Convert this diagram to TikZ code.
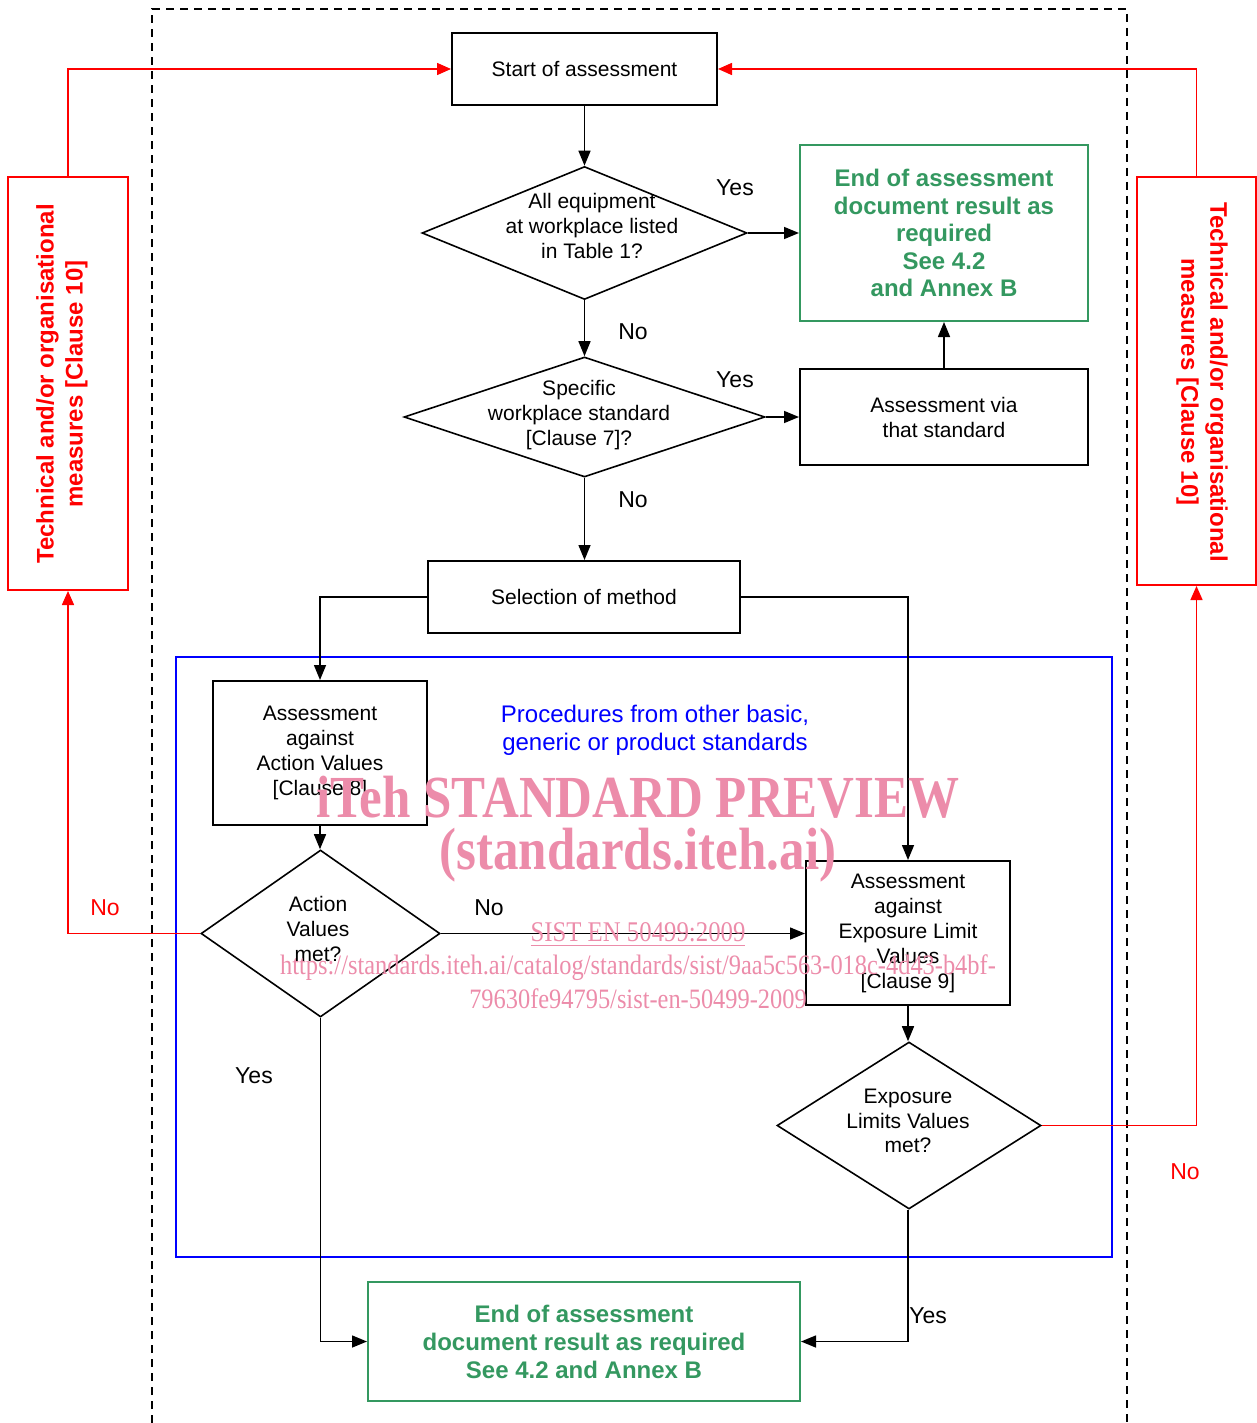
\documentclass[tikz,border=0pt]{standalone}
\usepackage{fontspec}
\usepackage{graphicx}
\setmainfont{Liberation Sans}
\newfontfamily\wmfont{Liberation Serif}
\usetikzlibrary{arrows.meta,shapes.geometric}
\definecolor{mygreen}{RGB}{52,152,96}
\definecolor{mypink}{RGB}{236,140,170}
\definecolor{myblue}{RGB}{0,0,255}
\definecolor{myred}{RGB}{255,0,0}
\tikzset{
  box/.style={draw=black,line width=1pt,rectangle,inner sep=0pt,align=center,
    font=\fontsize{10.5pt}{12.5pt}\selectfont},
  greenbox/.style={draw=mygreen,line width=1pt,rectangle,inner sep=0pt,align=center,
    text=mygreen,font=\fontsize{12pt}{13.75pt}\selectfont\bfseries},
  redbox/.style={draw=myred,line width=1pt,rectangle,inner sep=0pt},
  redtext/.style={text=myred,align=center,inner sep=0pt,font=\fontsize{12pt}{14.5pt}\selectfont\bfseries},
  dia/.style={draw=black,line width=0.8pt,diamond,inner sep=0pt},
  diatext/.style={align=center,inner sep=0pt,font=\fontsize{10.5pt}{12.3pt}\selectfont},
  conn/.style={draw=black,line width=0.75pt,-{Triangle[length=7.5pt,width=6pt]}},
  redconn/.style={draw=myred,line width=0.75pt,-{Triangle[length=7pt,width=6pt]}},
  lbl/.style={inner sep=0pt,font=\fontsize{11.5pt}{13pt}\selectfont},
  wm/.style={text=mypink,inner sep=0pt,align=center},
}
\begin{document}
\begin{tikzpicture}[x=0.5pt,y=-0.5pt]
\useasboundingbox (0,0) rectangle (1257,1423);
% dashed frame
\draw[line width=0.9pt,dash pattern=on 4pt off 3pt] (152,1423) -- (152,9) -- (1127,9) -- (1127,1423);
% blue frame
\draw[draw=myblue,line width=1.2pt] (176,657) rectangle (1112,1257);
\node[text=myblue,align=center,inner sep=0pt,font=\fontsize{12pt}{14pt}\selectfont] (blue) at (655,730)
  {Procedures from other basic,\\generic or product standards};

% nodes
\node[box,minimum width=132.5pt,minimum height=36pt] (start) at (584.5,69) {Start of assessment};
\node[dia,minimum width=162.5pt,minimum height=66.5pt] (d1) at (584.5,233) {};
\node[diatext] (d1t) at (592,226) {All equipment\\at workplace listed\\in Table 1?};
\node[greenbox,minimum width=144pt,minimum height=88pt] (g1) at (944,233)
  {End of assessment\\document result as\\required\\See 4.2\\and Annex B};
\node[dia,minimum width=180.5pt,minimum height=60pt] (d2) at (584.5,417) {};
\node[diatext] (d2t) at (579,415) {Specific\\workplace standard\\{}[Clause 7]?};
\node[box,minimum width=144pt,minimum height=48pt] (via) at (944,417) {Assessment via\\that standard};
\node[box,minimum width=156pt,minimum height=36pt] (sel) at (584,597) {Selection of method};
\node[box,minimum width=107pt,minimum height=72pt] (av) at (320,753)
  {Assessment\\against\\Action Values\\{}[Clause 8]};
\node[dia,minimum width=119.5pt,minimum height=83.5pt] (d3) at (320.5,933.5) {};
\node[diatext] (d3t) at (318,929) {Action\\Values\\met?};
\node[box,minimum width=102pt,minimum height=72pt] (el) at (908,933)
  {Assessment\\against\\Exposure Limit\\Values\\{}[Clause 9]};
\node[dia,minimum width=132pt,minimum height=83.5pt] (d4) at (909,1125.5) {};
\node[diatext] (d4t) at (908,1121) {Exposure\\Limits Values\\met?};
\node[greenbox,minimum width=216pt,minimum height=59.5pt,font=\fontsize{12pt}{14pt}\selectfont\bfseries] (g2) at (584,1341.5)
  {End of assessment\\document result as required\\See 4.2 and Annex B};
\node[redbox,minimum width=60pt,minimum height=206.5pt] (lr) at (68,383.5) {};
\node[redtext,rotate=90] (lrt) at (62,384) {Technical and/or organisational\\measures [Clause 10]};
\node[redbox,minimum width=59.5pt,minimum height=204pt] (rr) at (1196.5,381) {};
\node[redtext,rotate=-90] (rrt) at (1202,382) {Technical and/or organisational\\measures [Clause 10]};

% black connectors
\draw[conn] (start.south) -- (d1.north);
\draw[conn] (d1.east) -- (g1.west);
\draw[conn] (d1.south) -- (d2.north);
\draw[conn] (d2.east) -- (via.west);
\draw[conn] (via.north) -- (via.north |- g1.south);
\draw[conn] (d2.south) -- (d2.south |- sel.north);
\draw[conn] (sel.west) -| (av.north);
\draw[conn] (sel.east) -| (el.north);
\draw[conn] (av.south) -- (av.south |- d3.north);
\draw[conn] (d3.east) -- (d3.east -| el.west);
\draw[conn] (el.south) -- (el.south |- d4.north);
\draw[conn] (d3.south) |- (g2.west);
\draw[conn] (el.south |- d4.south) |- (g2.east);

% red connectors
\draw[redconn] (d3.west) -| (lr.south);
\draw[redconn] (lr.north) |- (start.west);
\draw[redconn] (d4.east) -| (rr.south);
\draw[redconn] (rr.north) |- (start.east);

% labels
\node[lbl] (y1) at (735,188) {Yes};
\node[lbl] (n1) at (633,332) {No};
\node[lbl] (y2) at (735,380) {Yes};
\node[lbl] (n2) at (633,500) {No};
\node[lbl] (n3) at (489,908) {No};
\node[lbl] (y3) at (254,1076) {Yes};
\node[lbl] (y4) at (928,1316) {Yes};
\node[lbl,text=myred] (n4) at (105,908) {No};
\node[lbl,text=myred] (n5) at (1185,1172) {No};

% watermark
\node[wm] (w1) at (638,797) {\scalebox{1}[1.17]{\wmfont\bfseries\fontsize{25.5pt}{28pt}\selectfont iTeh STANDARD PREVIEW}};
\node[wm] (w2) at (638,855) {\scalebox{1}[1.17]{\wmfont\bfseries\fontsize{25.5pt}{28pt}\selectfont (standards.iteh.ai)}};
\node[wm] (w3) at (638,935) {\scalebox{1}[1.15]{\wmfont\fontsize{12.4pt}{14pt}\selectfont \underline{SIST EN 50499:2009}}};
\node[wm] (w4) at (638,968) {\scalebox{1}[1.15]{\wmfont\fontsize{12.2pt}{14pt}\selectfont https://standards.iteh.ai/catalog/standards/sist/9aa5c563-018c-4d43-b4bf-}};
\node[wm] (w5) at (638,999) {\scalebox{1}[1.15]{\wmfont\fontsize{12.2pt}{14pt}\selectfont 79630fe94795/sist-en-50499-2009}};
\end{tikzpicture}
\end{document}
